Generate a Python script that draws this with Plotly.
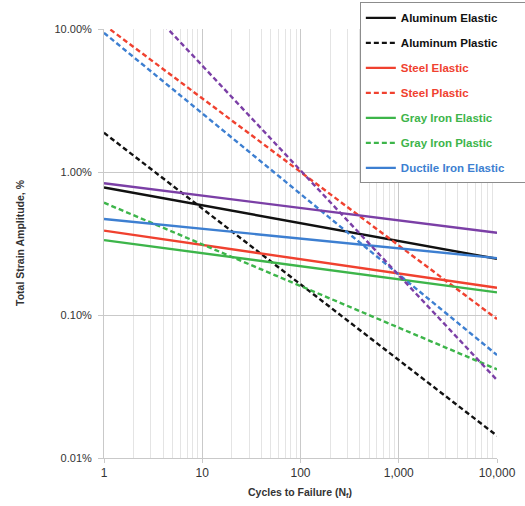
import plotly.graph_objects as go

# Cycles to failure (endpoints of each straight log-log line)
cycles = [1, 10000]

# Total strain amplitude, %
aluminum_elastic = [0.78, 0.247]
aluminum_plastic = [1.88, 0.0143]
steel_elastic = [0.389, 0.155]
steel_plastic = [10.7, 0.0937]
gray_iron_elastic = [0.334, 0.144]
gray_iron_plastic = [0.61, 0.0417]
ductile_iron_elastic = [0.469, 0.25]
ductile_iron_plastic = [9.4, 0.0525]
other_elastic = [0.834, 0.376]
other_plastic = [30.0, 0.0351]

x_tick_vals = [1, 10, 100, 1000, 10000]
x_tick_text = ["1", "10", "100", "1,000", "10,000"]
y_tick_vals = [0.01, 0.1, 1, 10]
y_tick_text = ["0.01%", "0.10%", "1.00%", "10.00%"]

BLACK = "#111111"
RED = "#F0412F"
GREEN = "#3DB54A"
BLUE = "#3D7FD1"
PURPLE = "#7B3FA6"

series = [
    ("Aluminum Elastic", aluminum_elastic, BLACK, "solid", True),
    ("Aluminum Plastic", aluminum_plastic, BLACK, "5px,3px", True),
    ("Steel Elastic", steel_elastic, RED, "solid", True),
    ("Steel Plastic", steel_plastic, RED, "5px,3px", True),
    ("Gray Iron Elastic", gray_iron_elastic, GREEN, "solid", True),
    ("Gray Iron Plastic", gray_iron_plastic, GREEN, "5px,3px", True),
    ("Ductile Iron Elastic", ductile_iron_elastic, BLUE, "solid", True),
    ("Ductile Iron Plastic", ductile_iron_plastic, BLUE, "5px,3px", False),
    ("Other Elastic", other_elastic, PURPLE, "solid", False),
    ("Other Plastic", other_plastic, PURPLE, "5px,3px", False),
]

fig = go.Figure()
for name, vals, color, dash, show in series:
    pad = "\u00a0" * 8 if name == "Ductile Iron Elastic" else ""
    fig.add_trace(go.Scatter(
        x=cycles, y=vals, mode="lines",
        name=f"<span style='color:{color}'>{name}</span>{pad}",
        line=dict(color=color, width=2.4, dash=dash),
        showlegend=show, legendgroup=name,
    ))

FONT = "Liberation Sans, Arial, sans-serif"

fig.update_layout(
    width=525, height=506,
    margin=dict(l=104, r=28, t=29, b=48, autoexpand=False),
    paper_bgcolor="white", plot_bgcolor="white",
    font=dict(family=FONT, size=11, color="#333333"),
    showlegend=True,
    legend=dict(
        x=0.651, y=1.062, xanchor="left", yanchor="top",
        bgcolor="white", bordercolor="#8c8c8c", borderwidth=1,
        font=dict(family=FONT, size=11.5, weight="bold"),
        tracegroupgap=6.0,
        itemwidth=30,
    ),
    xaxis=dict(
        type="log", range=[0, 4],
        tickvals=x_tick_vals, ticktext=x_tick_text,
        showgrid=True, gridcolor="#c9c9c9", gridwidth=1,
        minor=dict(dtick="D1", showgrid=True, gridcolor="#e4e4e4", gridwidth=1, ticks=""),
        showline=True, linecolor="#c9c9c9", linewidth=1,
        ticks="outside", ticklen=4, tickcolor="#c9c9c9",
        tickfont=dict(size=12, color="#333333"),
        zeroline=False,
    ),
    yaxis=dict(
        type="log", range=[-2, 1],
        tickvals=y_tick_vals, ticktext=y_tick_text,
        showgrid=True, gridcolor="#c9c9c9", gridwidth=1,
        showline=True, linecolor="#c9c9c9", linewidth=1,
        ticks="outside", ticklen=5, tickcolor="#c9c9c9",
        tickfont=dict(size=11, color="#333333"),
        ticklabelstandoff=4,
        zeroline=False,
    ),
)

plot_l, plot_r, plot_t, plot_b = 104, 497, 29, 458
def px_to_paper_x(px):
    return (px - plot_l) / (plot_r - plot_l)
def px_to_paper_y(py):
    return (plot_b - py) / (plot_b - plot_t)

fig.add_annotation(text="<b>Total Strain Amplitude, %</b>", xref="paper", yref="paper",
                   x=px_to_paper_x(20), y=px_to_paper_y(243), xanchor="center", yanchor="middle",
                   showarrow=False, textangle=-90,
                   font=dict(size=10.5, color="#333333"))
fig.add_annotation(text="<b>Cycles to Failure (N<sub>f</sub>)</b>", xref="paper", yref="paper",
                   x=px_to_paper_x(300), y=px_to_paper_y(493), xanchor="center", yanchor="middle",
                   showarrow=False,
                   font=dict(size=10.5, color="#333333"))

fig.write_html("out.html")
